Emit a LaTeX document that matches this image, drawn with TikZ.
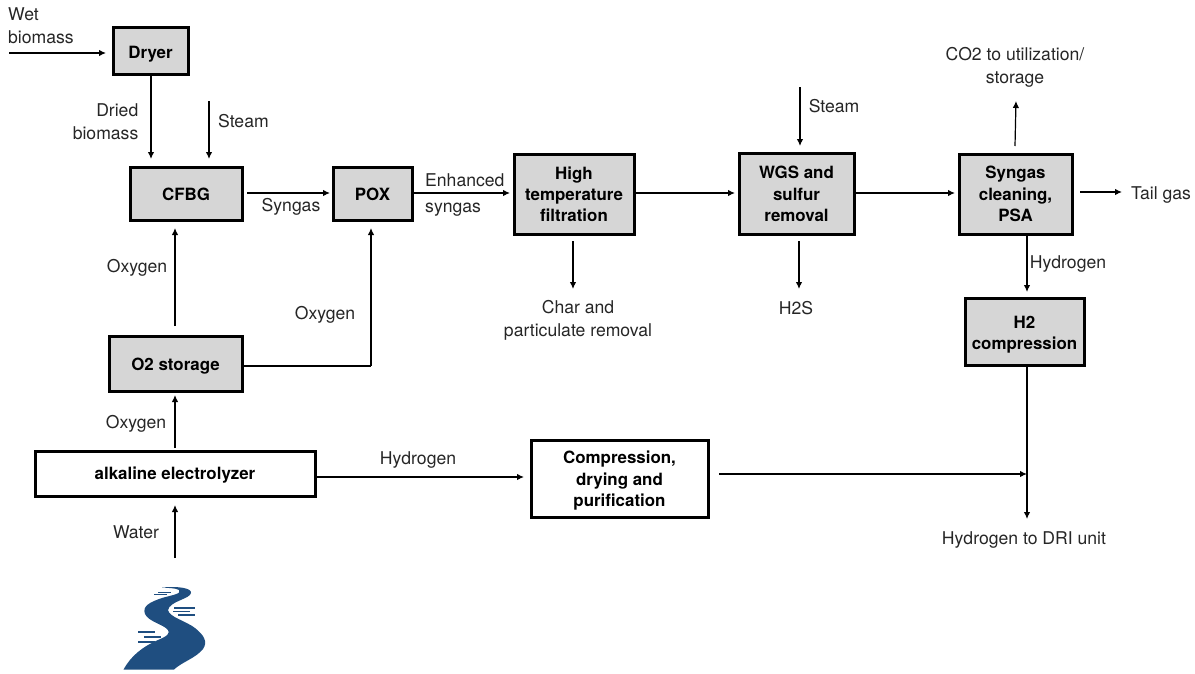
\documentclass[tikz,border=0pt]{standalone}
\usepackage{fontspec}
\setmainfont{TeX Gyre Heros}
\usetikzlibrary{arrows.meta}
\definecolor{boxgray}{HTML}{D6D6D6}
\definecolor{river}{HTML}{1F4E80}
\tikzset{
  x=1pt,y=-1pt,
  unit/.style={draw=black,line width=3pt,fill=boxgray,align=center,inner sep=0pt,font=\fontsize{16.9}{21.3}\selectfont\bfseries},
  whiteunit/.style={unit,fill=white},
  lbl/.style={align=center,inner sep=0pt,text=black!85,font=\fontsize{17.6}{23}\selectfont},
  flow/.style={draw=black,line width=1.2pt,-{Latex[length=7pt,width=6.5pt]}},
  pipe/.style={draw=black,line width=1.2pt},
}
\newcommand{\unitbox}[7][unit]{\node[#1,minimum width=#4pt-#2pt-2pt,minimum height=#5pt-#3pt-2pt] (#6) at ({(#2+#4)/2},{(#3+#5)/2}) {#7};}
\newcommand{\lift}[1]{\rule{0pt}{\dimexpr12.2pt+#1pt*2\relax}}
\begin{document}
\begin{tikzpicture}
\useasboundingbox (0,0) rectangle (1195,673);
% units
\unitbox{112}{26}{189}{75}{dryer}{\lift{4}Dryer}
\unitbox{129}{166}{243}{221}{cfbg}{\lift{1}CFBG}
\unitbox{332}{166}{413}{221}{pox}{\lift{1}POX}
\unitbox{513}{153}{635}{235}{filt}{\lift{0.5}High\\temperature\\filtration}
\unitbox{738}{152}{855}{235}{wgs}{\lift{0.5}WGS and\\sulfur\\removal}
\unitbox{958}{153}{1073}{235}{psa}{\lift{0}Syngas\\cleaning,\\PSA}
\unitbox{964}{297}{1085}{366}{hcomp}{\lift{3}H2\\compression}
\unitbox{108}{335}{243}{392}{store}{\lift{3}O2 storage}
\unitbox[whiteunit]{34}{450}{316}{497}{elec}{\lift{2}alkaline electrolyzer}
\unitbox[whiteunit]{530}{439}{709}{518}{comp}{\lift{2.5}Compression,\\drying and\\purification}
% free ends and junctions
\coordinate (wetin) at (9,53);
\coordinate (wetend) at (106,53);
\coordinate (driedst) at (151,75);
\coordinate (driedend) at (151,159);
\coordinate (steamA) at (209,101);
\coordinate (steamAend) at (209,159);
\coordinate (steamB) at (800,87);
\coordinate (steamBend) at (800,146);
\coordinate (synst) at (247,193);
\coordinate (synend) at (330,193);
\coordinate (enhend) at (510,193);
\coordinate (wgsin) at (735,193);
\coordinate (psain) at (955,193);
\coordinate (charst) at (573,241);
\coordinate (charout) at (573,289);
\coordinate (hsst) at (799,241);
\coordinate (hsout) at (799,289);
\coordinate (co2st) at (1015,146);
\coordinate (co2out) at (1016,101);
\coordinate (tailst) at (1080,192);
\coordinate (tailout) at (1122,192);
\coordinate (hout) at (1027,235);
\coordinate (hin) at (1027,292);
\coordinate (hcout) at (1027,366);
\coordinate (driout) at (1027,519);
\coordinate (waterin) at (175,558);
\coordinate (waterend) at (175,505);
\coordinate (oxjoin) at (371,366);
\coordinate (oxend) at (371,228);
\coordinate (oxA) at (175,326);
\coordinate (oxAend) at (175,228);
\coordinate (oxB) at (175,448);
\coordinate (oxBend) at (175,395);
\coordinate (hjoin) at (1027,474);
\coordinate (compst) at (719,474);
\coordinate (hydst) at (316,477);
\coordinate (hydend) at (524,477);
% connectors
\draw[flow] (wetin) -- (wetend);
\draw[flow] (driedst) -- (driedend);
\draw[flow] (steamA) -- (steamAend);
\draw[flow] (synst) -- (synend);
\draw[flow] (pox.east |- synst) -- (enhend);
\draw[flow] (filt.east |- synst) -- (wgsin);
\draw[flow] (wgs.east |- synst) -- (psain);
\draw[flow] (tailst) -- (tailout);
\draw[flow] (steamB) -- (steamBend);
\draw[flow] (charst) -- (charout);
\draw[flow] (hsst) -- (hsout);
\draw[flow] (co2st) -- (co2out);
\draw[flow] (hout) -- (hin);
\draw[pipe] (hcout) -- (hjoin);
\draw[flow] (hjoin) -- (driout);
\draw[flow] (compst) -- (hjoin);
\draw[flow] (hydst) -- (hydend);
\draw[flow] (oxA) -- (oxAend);
\draw[pipe] (store.east |- oxjoin) -- (oxjoin);
\draw[flow] (oxjoin) -- (oxend);
\draw[flow] (oxB) -- (oxBend);
\draw[flow] (waterin) -- (waterend);
% labels
\node[lbl,align=left,anchor=north west] (lwet) at (8,7.5) {Wet\\biomass};
\node[lbl,align=right,anchor=north east] (ldried) at (138.5,103) {Dried\\biomass};
\node[lbl,anchor=west] (lsteam1) at (218,121.5) {Steam};
\node[lbl] (lsyn) at (291,206.5) {Syngas};
\node[lbl,align=left,anchor=north west,font=\fontsize{17.6}{26.5}\selectfont] (lenh) at (425,173) {Enhanced\\syngas};
\node[lbl] (loxy1) at (137,268) {Oxygen};
\node[lbl] (loxy2) at (325,315) {Oxygen};
\node[lbl] (loxy3) at (136,424) {Oxygen};
\node[lbl] (lwater) at (136,532) {Water};
\node[lbl] (lhyd1) at (418,460) {Hydrogen};
\node[lbl] (lchar) at (578,320) {Char and\\particulate removal};
\node[lbl] (lsteam2) at (834,106.5) {Steam};
\node[lbl] (lh2s) at (796,308) {H2S};
\node[lbl] (lco2) at (1015,67.5) {CO2 to utilization/\\storage};
\node[lbl,anchor=west] (ltail) at (1131,195) {Tail gas};
\node[lbl] (lhyd2) at (1068,263.5) {Hydrogen};
\node[lbl] (ldri) at (1024,540) {Hydrogen to DRI unit};
% river
\fill[river] (123.5,669.5) .. controls (131,656) and (142,647) .. (158,640)
  .. controls (168,636) and (170,633) .. (168,630)
  .. controls (163,624) and (149,622) .. (145,614)
  .. controls (142,606) and (150,602) .. (162,598)
  .. controls (172,595) and (182,594) .. (179,590)
  .. controls (176,588) and (168,588) .. (162,587.5)
  .. controls (178,586) and (192,588) .. (191,593)
  .. controls (190,599) and (170,601) .. (168,610)
  .. controls (169,617) and (186,621) .. (195,628)
  .. controls (204,635) and (208,642) .. (203,649)
  .. controls (196,658) and (182,662) .. (174,669.5) -- cycle;
\foreach \xa/\xb/\yy/\hh in {158/171/592/0.5,154/167/594.5/0.5,174/195/608/0.7,173/190/611.5/0.7,178/195/615/0.7,138/155/632/0.9,144/161/637/0.9,138/155/642/0.9}
  \fill[river] (\xa,\yy-\hh) rectangle (\xb,\yy+\hh);
\end{tikzpicture}
\end{document}
